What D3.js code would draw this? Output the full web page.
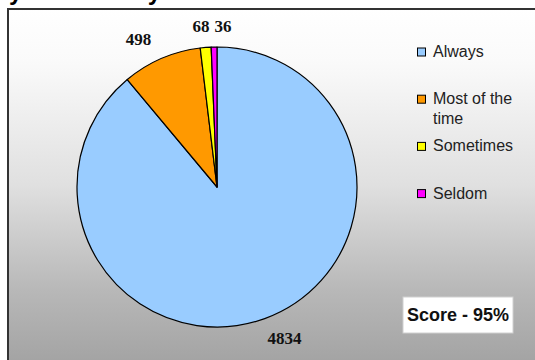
<!DOCTYPE html>
<html>
<head>
<meta charset="utf-8">
<script src="https://cdn.jsdelivr.net/npm/d3@7"></script>
<style>
  html, body { margin: 0; padding: 0; background: #fff; }
  svg { display: block; }
</style>
</head>
<body>
<svg id="chart" width="535" height="360"></svg>
<script>
// Survey responses
const categories = ["Always", "Most of the time", "Sometimes", "Seldom"];
const counts = [4834, 498, 68, 36];
const colors = ["#99ccff", "#ff9900", "#ffff00", "#ff00ff"];
const titleText = "Quality of service you received";
const scoreText = "Score - 95%";

const W = 535, H = 360;
const svg = d3.select("#chart");

// Plot-area background: white fading to grey towards the bottom
const defs = svg.append("defs");
const grad = defs.append("linearGradient")
  .attr("id", "bg").attr("gradientUnits", "userSpaceOnUse")
  .attr("x1", 0).attr("y1", 9).attr("x2", 0).attr("y2", H);
[[0, "#ffffff"], [0.15, "#fafafa"], [0.5, "#e0e0e0"], [0.8, "#b8b8b8"], [1, "#a4a4a4"]]
  .forEach(([o, c]) => grad.append("stop").attr("offset", o).attr("stop-color", c));

// Title (runs off the top edge)
svg.append("text")
  .attr("x", -59).attr("y", 0)
  .attr("font-family", "Liberation Sans, Arial, sans-serif")
  .attr("font-weight", "bold").attr("font-size", 24)
  .attr("fill", "#000")
  .text(titleText);

// Chart frame
svg.append("rect")
  .attr("x", 8).attr("y", 9).attr("width", W + 10).attr("height", H + 10)
  .attr("fill", "url(#bg)").attr("stroke", "#333").attr("stroke-width", 2);

// Pie
const cx = 217, cy = 187, r = 140;
const pie = d3.pie().sort(null).value(d => d)(counts);
const arc = d3.arc().innerRadius(0).outerRadius(r);
const g = svg.append("g").attr("transform", `translate(${cx},${cy})`);

g.selectAll("path.slice").data(pie).join("path")
  .attr("class", "slice")
  .attr("d", arc)
  .attr("fill", (d, i) => colors[i])
  .attr("stroke", "#000").attr("stroke-width", 1.2)
  .attr("stroke-linejoin", "round");

// Value labels placed around the pie, nudged apart when they collide
const kx = 198, ky = 161;
const labelFont = 17;
const labels = pie.map((d, i) => {
  const a = (d.startAngle + d.endAngle) / 2;
  const text = String(counts[i]);
  return { text, x: kx * Math.sin(a), y: -ky * Math.cos(a), w: text.length * labelFont * 0.5 };
});
const sorted = labels.slice().sort((a, b) => a.x - b.x);
for (let k = 1; k < sorted.length; k++) {
  const p = sorted[k - 1], q = sorted[k];
  if (Math.abs(p.y - q.y) < labelFont) {
    const minGap = (p.w + q.w) / 2 + 5;
    if (q.x - p.x < minGap) {
      q.x = p.x + minGap;
    }
  }
}
g.selectAll("text.val").data(labels).join("text")
  .attr("class", "val")
  .attr("x", d => d.x).attr("y", d => d.y)
  .attr("text-anchor", "middle").attr("dominant-baseline", "central")
  .attr("font-family", "Liberation Serif, Times New Roman, serif")
  .attr("font-weight", "bold").attr("font-size", labelFont)
  .attr("fill", "#111")
  .text(d => d.text);

// Legend
const legendX = 417, legendY0 = 52, legendStep = 47.2;
const lg = svg.append("g");
const entries = lg.selectAll("g").data(categories).join("g")
  .attr("transform", (d, i) => `translate(${legendX},${legendY0 + i * legendStep})`);
entries.append("rect")
  .attr("x", 0.5).attr("y", -4).attr("width", 8).attr("height", 8)
  .attr("fill", (d, i) => colors[i]).attr("stroke", "#000").attr("stroke-width", 1);
const wrap = { "Most of the time": ["Most of the", "time"] };
entries.append("text")
  .attr("x", 16).attr("y", 5)
  .attr("font-family", "Liberation Sans, Arial, sans-serif")
  .attr("font-size", 16).attr("fill", "#222")
  .each(function(d) {
    const lines = wrap[d] || [d];
    const t = d3.select(this);
    lines.forEach((ln, j) => t.append("tspan")
      .attr("x", 16).attr("dy", j === 0 ? 0 : 20).text(ln));
  });

// Score box
const sb = svg.append("g").attr("transform", "translate(403,297)");
sb.append("rect").attr("width", 110).attr("height", 36)
  .attr("fill", "#fff").attr("stroke", "#d0d0d0").attr("stroke-width", 1);
sb.append("text")
  .attr("x", 55).attr("y", 18).attr("text-anchor", "middle").attr("dominant-baseline", "central")
  .attr("font-family", "Liberation Sans, Arial, sans-serif")
  .attr("font-weight", "bold").attr("font-size", 18).attr("fill", "#111")
  .text(scoreText);
</script>
</body>
</html>
